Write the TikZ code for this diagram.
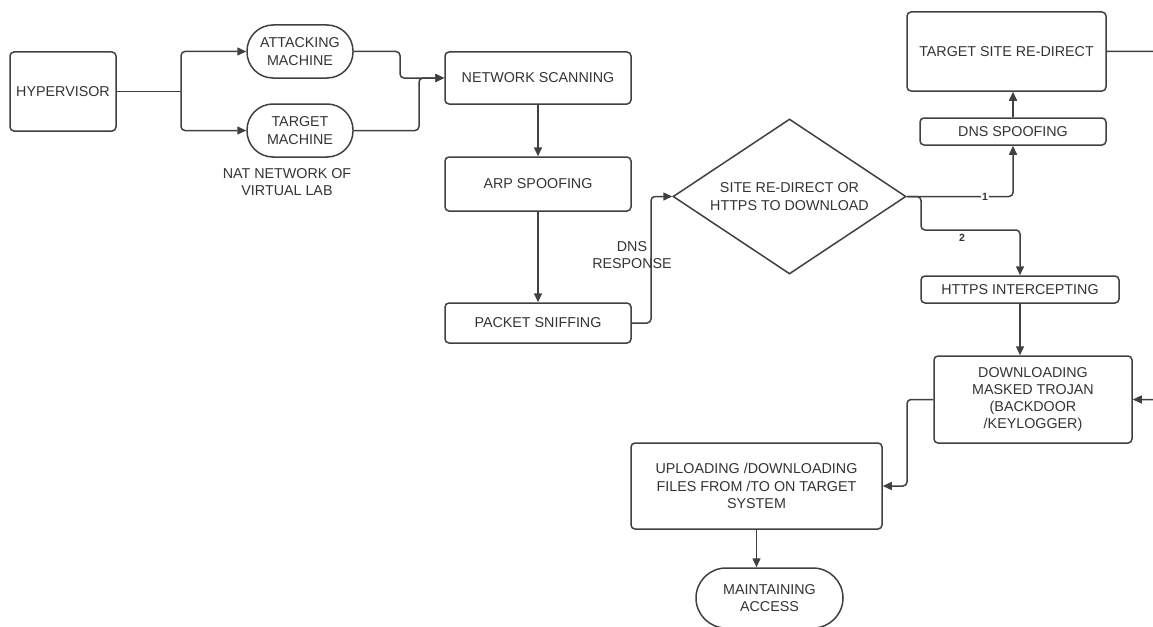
\documentclass[tikz,border=0pt]{standalone}
\usepackage{fontspec}
\setmainfont{Liberation Sans}
\usetikzlibrary{arrows.meta,shapes.geometric}
\definecolor{lc}{HTML}{404040}
\definecolor{tc}{HTML}{333333}
\tikzset{
  box/.style={draw=lc, line width=1.5pt, rounded corners=4pt, align=center, inner sep=0pt,
    font=\fontsize{14.3}{17.3}\selectfont, text=tc},
  sz/.style 2 args={minimum width=#1, minimum height=#2},
  stad/.style={box, rounded corners=26pt},
  dia/.style={draw=lc, line width=1.5pt, shape=diamond, align=center, inner sep=0pt,
    font=\fontsize{14.3}{17.3}\selectfont, text=tc},
  conn/.style={draw=lc, line width=1.5pt, rounded corners=4pt, -{Triangle[length=9pt,width=8pt]}},
  plain/.style={draw=lc, line width=1.5pt, rounded corners=4pt},
  lbl/.style={align=center, inner sep=0pt, font=\fontsize{14.3}{17.3}\selectfont, text=tc},
  num/.style={fill=white, inner sep=1pt, font=\bfseries\fontsize{10.5}{12}\selectfont, text=tc}
}
\begin{document}
\begin{tikzpicture}[x=1pt,y=-1pt]
\useasboundingbox (0,0) rectangle (1153,626);
\clip (0,0) rectangle (1153,626);
\node[box, sz={106}{79}] (hyp) at (63,91.5) {HYPERVISOR};
\node[stad, sz={106}{53}] (att) at (300,51.5) {ATTACKING\\MACHINE};
\node[stad, sz={106}{53}] (tgt) at (300,130.5) {TARGET\\MACHINE};
\node[lbl] (nat) at (287,182) {NAT NETWORK OF\\VIRTUAL LAB};
\node[box, sz={186}{52}] (ns) at (538,78) {NETWORK SCANNING};
\node[box, sz={186}{54}] (arp) at (538,184) {ARP SPOOFING};
\node[box, sz={186}{40}] (ps) at (538,323) {PACKET SNIFFING};
\node[lbl] (dnsr) at (632,255) {DNS\\RESPONSE};
\node[dia, aspect=1.497, minimum width=233, minimum height=155] (dec) at (789.5,196.5) {SITE RE-DIRECT OR\\HTTPS TO DOWNLOAD};
\node[box, sz={199}{79}] (tsr) at (1006.5,51.5) {TARGET SITE RE-DIRECT};
\node[box, sz={186}{27}] (dnss) at (1013,131.5) {DNS SPOOFING};
\node[box, sz={198}{27}] (hi) at (1020,289.5) {HTTPS INTERCEPTING};
\node[box, sz={198}{87}] (dl) at (1033,399.5) {DOWNLOADING\\MASKED TROJAN\\(BACKDOOR\\/KEYLOGGER)};
\node[box, sz={251}{86}] (up) at (756.5,486) {UPLOADING /DOWNLOADING\\FILES FROM /TO ON TARGET\\SYSTEM};
\node[stad, rounded corners=30pt, sz={147}{60}] (ma) at (769.5,598) {MAINTAINING\\ACCESS};

\coordinate (br) at (181,91.5);
\draw[plain] (hyp.east) -- (br);
\draw[conn] (br) |- (att.west);
\draw[conn] (br) |- (tgt.west);
\draw[conn] (att.east) -- (400,51.5) |- (ns.west);
\draw[conn] (tgt.east) -- (419,130.5) |- (ns.west);
\draw[conn] (ns.south) -- (arp.north);
\draw[conn] (arp.south) -- (ps.north);
\draw[conn] (ps.east) -- (651,323) |- (dec.west);
\draw[conn] (dec.east) -| node[num, pos=0.368] {1} (dnss.south);
\draw[conn] (dnss.north) -- (dnss.north |- tsr.south);
\draw[conn] (dec.east) -- (921,196.5) -- (921,230) -| (hi.north);
\node[num, fill=none] (two) at (962,238) {2};
\draw[conn] (hi.south) -- (hi.south |- dl.north);
\draw[conn] (dl.west) -- (907,399.5) |- (up.east);
\draw[conn] (up.south) -- (up.south |- ma.north);
\draw[conn] (tsr.east) -- (1190,51.5) |- (dl.east);
\end{tikzpicture}
\end{document}
